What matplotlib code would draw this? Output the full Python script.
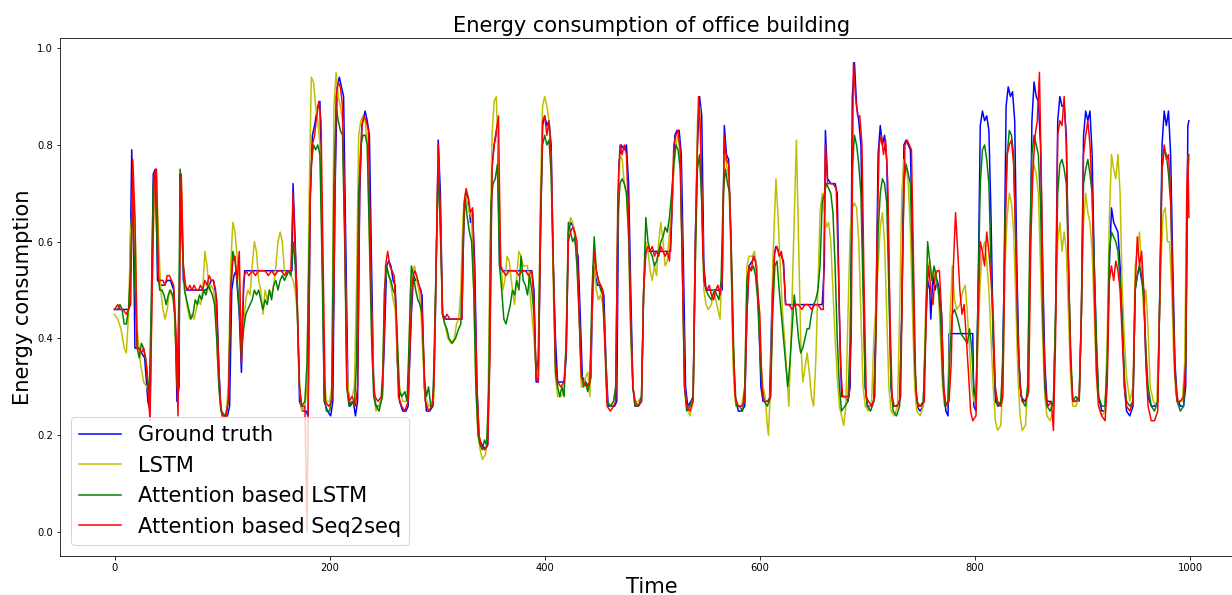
import matplotlib
matplotlib.use("Agg")
import matplotlib.pyplot as plt

# (time step, value) vertices, per series
truth = [
    (0, 0.46), (5, 0.46), (10, 0.46), (13, 0.46), (14, 0.47), (16, 0.79), (17, 0.70), (19, 0.38), (22, 0.38),
    (25, 0.37), (28, 0.36), (31, 0.27), (33, 0.25), (34, 0.40), (36, 0.74), (38, 0.75), (40, 0.52), (43, 0.51),
    (46, 0.51), (49, 0.52), (52, 0.52), (55, 0.50), (57, 0.40), (58, 0.27), (60, 0.30), (61, 0.74), (62, 0.72),
    (64, 0.52), (67, 0.50), (70, 0.50), (75, 0.50), (80, 0.50), (85, 0.50), (88, 0.51), (90, 0.52), (92, 0.52),
    (95, 0.48), (97, 0.34), (99, 0.25), (102, 0.24), (105, 0.24), (107, 0.26), (109, 0.50), (111, 0.53),
    (113, 0.54), (116, 0.45), (118, 0.33), (120, 0.50), (121, 0.54), (130, 0.54), (140, 0.54), (150, 0.54),
    (160, 0.54), (165, 0.54), (166, 0.72), (168, 0.60), (170, 0.46), (172, 0.27), (175, 0.25), (178, 0.25),
    (180, 0.24), (182, 0.70), (184, 0.82), (186, 0.84), (189, 0.88), (191, 0.89), (193, 0.62), (195, 0.27),
    (198, 0.25), (201, 0.24), (203, 0.27), (205, 0.70), (207, 0.92), (209, 0.94), (211, 0.92), (213, 0.90),
    (215, 0.60), (217, 0.30), (219, 0.26), (222, 0.27), (224, 0.24), (226, 0.27), (228, 0.70), (230, 0.84),
    (233, 0.87), (235, 0.85), (237, 0.82), (239, 0.55), (241, 0.30), (243, 0.26), (246, 0.26), (249, 0.28),
    (251, 0.40), (253, 0.55), (255, 0.56), (257, 0.55), (259, 0.52), (261, 0.51), (263, 0.35), (265, 0.27),
    (268, 0.25), (271, 0.25), (273, 0.26), (276, 0.45), (278, 0.53), (280, 0.52), (282, 0.52), (284, 0.50),
    (286, 0.49), (288, 0.30), (290, 0.25), (293, 0.25), (296, 0.26), (298, 0.40), (301, 0.81), (303, 0.70),
    (305, 0.45), (308, 0.44), (312, 0.44), (316, 0.44), (320, 0.44), (323, 0.44), (325, 0.66), (327, 0.70),
    (329, 0.69), (331, 0.64), (333, 0.66), (335, 0.55), (337, 0.30), (339, 0.19), (342, 0.18), (345, 0.17),
    (347, 0.18), (349, 0.40), (351, 0.76), (353, 0.80), (356, 0.84), (358, 0.55), (360, 0.54), (370, 0.54),
    (380, 0.54), (388, 0.54), (390, 0.50), (392, 0.31), (394, 0.31), (396, 0.60), (398, 0.84), (400, 0.86),
    (402, 0.84), (404, 0.85), (406, 0.80), (408, 0.55), (410, 0.40), (412, 0.31), (415, 0.31), (418, 0.31),
    (420, 0.36), (422, 0.62), (424, 0.64), (427, 0.63), (429, 0.59), (431, 0.57), (433, 0.45), (435, 0.32),
    (438, 0.31), (441, 0.30), (443, 0.32), (445, 0.55), (447, 0.53), (449, 0.51), (452, 0.51), (455, 0.49),
    (457, 0.35), (459, 0.26), (462, 0.26), (465, 0.26), (467, 0.27), (469, 0.76), (471, 0.80), (474, 0.79),
    (476, 0.80), (478, 0.72), (480, 0.50), (482, 0.30), (484, 0.26), (487, 0.26), (490, 0.27), (492, 0.50),
    (494, 0.58), (500, 0.58), (510, 0.58), (517, 0.58), (519, 0.70), (521, 0.82), (523, 0.83), (525, 0.83),
    (527, 0.78), (529, 0.55), (531, 0.30), (533, 0.26), (536, 0.27), (538, 0.28), (540, 0.60), (542, 0.80),
    (544, 0.90), (546, 0.86), (548, 0.55), (550, 0.50), (555, 0.50), (560, 0.50), (565, 0.50), (567, 0.84),
    (569, 0.78), (571, 0.77), (573, 0.60), (575, 0.40), (577, 0.28), (580, 0.25), (583, 0.25), (586, 0.26),
    (588, 0.45), (590, 0.55), (593, 0.56), (595, 0.57), (597, 0.55), (599, 0.45), (601, 0.30), (603, 0.27),
    (606, 0.27), (609, 0.27), (611, 0.45), (613, 0.57), (615, 0.59), (618, 0.58), (620, 0.57), (622, 0.56),
    (624, 0.47), (630, 0.47), (640, 0.47), (650, 0.47), (658, 0.47), (660, 0.55), (661, 0.83), (663, 0.73),
    (666, 0.72), (670, 0.72), (672, 0.70), (674, 0.45), (676, 0.28), (679, 0.28), (682, 0.27), (684, 0.30),
    (686, 0.90), (688, 0.97), (690, 0.88), (692, 0.85), (694, 0.80), (696, 0.55), (698, 0.30), (700, 0.26),
    (703, 0.26), (706, 0.27), (708, 0.45), (710, 0.78), (712, 0.84), (714, 0.80), (716, 0.82), (718, 0.77),
    (720, 0.55), (722, 0.30), (724, 0.26), (727, 0.26), (730, 0.27), (732, 0.45), (734, 0.80), (736, 0.81),
    (738, 0.80), (740, 0.79), (742, 0.60), (744, 0.35), (746, 0.26), (749, 0.25), (752, 0.26), (754, 0.40),
    (756, 0.52), (758, 0.50), (759, 0.44), (761, 0.53), (763, 0.50), (765, 0.52), (767, 0.50), (769, 0.45),
    (771, 0.30), (773, 0.25), (775, 0.24), (776, 0.41), (785, 0.41), (795, 0.41), (798, 0.41), (799, 0.26),
    (801, 0.25), (803, 0.50), (805, 0.84), (807, 0.87), (809, 0.85), (811, 0.86), (813, 0.83), (815, 0.65),
    (817, 0.40), (819, 0.27), (822, 0.26), (825, 0.27), (827, 0.50), (829, 0.88), (831, 0.92), (833, 0.90),
    (835, 0.91), (837, 0.85), (839, 0.55), (841, 0.35), (843, 0.28), (846, 0.27), (849, 0.28), (851, 0.50),
    (853, 0.85), (855, 0.93), (857, 0.90), (859, 0.89), (861, 0.80), (863, 0.55), (865, 0.35), (867, 0.27),
    (870, 0.27), (873, 0.26), (875, 0.45), (877, 0.85), (879, 0.90), (881, 0.88), (883, 0.88), (885, 0.82),
    (887, 0.55), (889, 0.35), (891, 0.27), (894, 0.27), (897, 0.28), (899, 0.45), (901, 0.82), (903, 0.87),
    (905, 0.85), (907, 0.87), (909, 0.78), (911, 0.55), (913, 0.38), (915, 0.28), (918, 0.25), (921, 0.25),
    (923, 0.35), (925, 0.55), (927, 0.67), (929, 0.64), (931, 0.63), (933, 0.62), (935, 0.55), (937, 0.45),
    (939, 0.30), (941, 0.25), (944, 0.24), (947, 0.26), (949, 0.50), (951, 0.53), (953, 0.55), (955, 0.52),
    (957, 0.50), (959, 0.35), (961, 0.28), (964, 0.26), (967, 0.26), (970, 0.27), (972, 0.50), (974, 0.80),
    (976, 0.87), (978, 0.84), (980, 0.87), (982, 0.78), (984, 0.55), (986, 0.35), (988, 0.28), (991, 0.26),
    (994, 0.26), (996, 0.30), (998, 0.84), (999, 0.85),
]

lstm = [
    (0, 0.45), (3, 0.44), (6, 0.42), (9, 0.38), (11, 0.37), (13, 0.45), (15, 0.62), (17, 0.69), (19, 0.65),
    (21, 0.42), (24, 0.35), (27, 0.31), (30, 0.30), (33, 0.28), (35, 0.50), (37, 0.72), (39, 0.74), (41, 0.60),
    (43, 0.50), (45, 0.46), (47, 0.44), (49, 0.46), (51, 0.50), (53, 0.49), (55, 0.48), (57, 0.38), (59, 0.30),
    (61, 0.60), (62, 0.74), (64, 0.55), (66, 0.49), (68, 0.46), (70, 0.44), (72, 0.45), (74, 0.44), (76, 0.46),
    (78, 0.48), (80, 0.47), (82, 0.50), (84, 0.58), (86, 0.55), (88, 0.50), (90, 0.51), (92, 0.50), (94, 0.46),
    (96, 0.35), (98, 0.27), (100, 0.24), (104, 0.24), (106, 0.32), (108, 0.55), (110, 0.64), (112, 0.62),
    (114, 0.57), (116, 0.52), (118, 0.40), (120, 0.42), (122, 0.48), (124, 0.50), (126, 0.49), (128, 0.55),
    (130, 0.60), (132, 0.58), (134, 0.52), (136, 0.50), (138, 0.45), (140, 0.50), (142, 0.48), (144, 0.50),
    (146, 0.49), (148, 0.51), (150, 0.55), (152, 0.60), (154, 0.62), (156, 0.60), (158, 0.54), (160, 0.53),
    (162, 0.54), (164, 0.53), (166, 0.52), (168, 0.50), (170, 0.45), (172, 0.30), (174, 0.25), (177, 0.26),
    (179, 0.30), (181, 0.70), (183, 0.94), (185, 0.93), (187, 0.88), (189, 0.85), (191, 0.80), (193, 0.60),
    (195, 0.32), (197, 0.27), (200, 0.27), (202, 0.30), (204, 0.88), (206, 0.95), (208, 0.90), (210, 0.88),
    (212, 0.85), (214, 0.62), (216, 0.35), (218, 0.27), (221, 0.28), (223, 0.30), (225, 0.50), (227, 0.82),
    (229, 0.85), (231, 0.86), (233, 0.85), (235, 0.80), (237, 0.62), (239, 0.45), (241, 0.30), (243, 0.25),
    (246, 0.26), (249, 0.28), (251, 0.50), (253, 0.55), (255, 0.53), (257, 0.51), (259, 0.48), (261, 0.46),
    (263, 0.35), (265, 0.30), (268, 0.27), (271, 0.27), (273, 0.28), (275, 0.50), (277, 0.54), (279, 0.55),
    (281, 0.52), (283, 0.50), (285, 0.45), (287, 0.35), (289, 0.28), (292, 0.26), (295, 0.26), (297, 0.28),
    (299, 0.55), (301, 0.78), (303, 0.62), (305, 0.45), (307, 0.43), (310, 0.40), (313, 0.39), (316, 0.40),
    (318, 0.43), (320, 0.44), (322, 0.50), (324, 0.65), (326, 0.70), (328, 0.68), (330, 0.66), (332, 0.65),
    (334, 0.50), (336, 0.30), (338, 0.20), (340, 0.17), (342, 0.15), (345, 0.16), (347, 0.22), (349, 0.55),
    (351, 0.82), (353, 0.89), (355, 0.90), (357, 0.75), (359, 0.58), (361, 0.50), (363, 0.52), (365, 0.57),
    (367, 0.56), (370, 0.50), (372, 0.47), (374, 0.53), (376, 0.58), (378, 0.57), (380, 0.55), (382, 0.55),
    (384, 0.55), (386, 0.50), (388, 0.45), (390, 0.40), (392, 0.33), (394, 0.34), (396, 0.70), (398, 0.88),
    (400, 0.90), (402, 0.88), (404, 0.85), (406, 0.75), (408, 0.50), (410, 0.32), (412, 0.28), (415, 0.28),
    (418, 0.29), (420, 0.40), (422, 0.62), (424, 0.65), (426, 0.64), (428, 0.62), (430, 0.55), (432, 0.45),
    (434, 0.30), (436, 0.30), (438, 0.32), (440, 0.33), (442, 0.28), (444, 0.45), (446, 0.55), (448, 0.50),
    (450, 0.48), (452, 0.49), (454, 0.47), (456, 0.40), (458, 0.27), (461, 0.26), (464, 0.27), (466, 0.30),
    (468, 0.65), (470, 0.78), (472, 0.77), (474, 0.72), (476, 0.70), (478, 0.60), (480, 0.40), (482, 0.30),
    (484, 0.27), (487, 0.27), (490, 0.28), (492, 0.50), (494, 0.60), (496, 0.58), (498, 0.54), (500, 0.52),
    (502, 0.55), (504, 0.53), (506, 0.60), (508, 0.64), (510, 0.60), (512, 0.55), (514, 0.56), (516, 0.62),
    (518, 0.66), (520, 0.75), (522, 0.80), (524, 0.82), (526, 0.78), (528, 0.55), (530, 0.30), (532, 0.26),
    (535, 0.24), (538, 0.27), (540, 0.55), (542, 0.85), (544, 0.88), (546, 0.70), (548, 0.50), (550, 0.47),
    (552, 0.46), (555, 0.47), (557, 0.50), (559, 0.48), (561, 0.46), (563, 0.44), (565, 0.55), (567, 0.78),
    (569, 0.76), (571, 0.73), (573, 0.60), (575, 0.35), (577, 0.27), (580, 0.26), (583, 0.26), (586, 0.30),
    (588, 0.55), (590, 0.57), (593, 0.57), (595, 0.58), (597, 0.55), (599, 0.46), (601, 0.35), (603, 0.30),
    (605, 0.28), (607, 0.22), (608, 0.20), (610, 0.30), (612, 0.55), (615, 0.73), (617, 0.65), (619, 0.55),
    (621, 0.46), (623, 0.40), (625, 0.33), (627, 0.26), (629, 0.40), (632, 0.65), (634, 0.81), (636, 0.60),
    (638, 0.40), (640, 0.31), (642, 0.34), (644, 0.37), (646, 0.33), (648, 0.28), (650, 0.26), (652, 0.35),
    (654, 0.50), (656, 0.66), (658, 0.70), (660, 0.66), (662, 0.63), (664, 0.64), (666, 0.60), (668, 0.50),
    (670, 0.40), (672, 0.32), (674, 0.26), (676, 0.24), (678, 0.22), (680, 0.26), (682, 0.45),
    (684, 0.62), (686, 0.67), (688, 0.68), (690, 0.67), (692, 0.60), (694, 0.45), (696, 0.30), (698, 0.26),
    (701, 0.25), (704, 0.27), (706, 0.40), (708, 0.47), (710, 0.55), (712, 0.63), (714, 0.66), (716, 0.60),
    (718, 0.45), (720, 0.30), (722, 0.25), (725, 0.24), (728, 0.26), (730, 0.45), (732, 0.70), (734, 0.77),
    (736, 0.76), (738, 0.72), (740, 0.62), (742, 0.45), (744, 0.30), (746, 0.25), (749, 0.24), (752, 0.26),
    (754, 0.45), (756, 0.55), (758, 0.56), (760, 0.52), (762, 0.54), (764, 0.52), (766, 0.50), (768, 0.40),
    (770, 0.30), (772, 0.26), (775, 0.27), (777, 0.45), (779, 0.55), (781, 0.48), (783, 0.46), (786, 0.47),
    (789, 0.50), (791, 0.51), (793, 0.45), (795, 0.38), (797, 0.30), (799, 0.27), (801, 0.28), (803, 0.40),
    (805, 0.52), (807, 0.58), (809, 0.60), (811, 0.56), (813, 0.50), (815, 0.40), (817, 0.30), (819, 0.23),
    (821, 0.21), (824, 0.22), (826, 0.30), (828, 0.55), (830, 0.65), (832, 0.70), (834, 0.68), (836, 0.62),
    (838, 0.48), (840, 0.32), (842, 0.24), (844, 0.21), (847, 0.22), (849, 0.30), (851, 0.55), (853, 0.72),
    (855, 0.76), (857, 0.74), (859, 0.70), (861, 0.55), (863, 0.40), (865, 0.28), (867, 0.24), (870, 0.23),
    (873, 0.25), (875, 0.45), (877, 0.60), (879, 0.64), (881, 0.58), (883, 0.62), (885, 0.58), (887, 0.45),
    (889, 0.32), (891, 0.26), (894, 0.26), (897, 0.28), (899, 0.45), (901, 0.64), (903, 0.70), (905, 0.66),
    (907, 0.64), (909, 0.58), (911, 0.45), (913, 0.32), (915, 0.26), (918, 0.24), (921, 0.25), (923, 0.40),
    (925, 0.65), (927, 0.78), (929, 0.75), (931, 0.73), (933, 0.78), (935, 0.70), (937, 0.50), (939, 0.40),
    (941, 0.32), (944, 0.27), (947, 0.30), (949, 0.55), (951, 0.58), (953, 0.62), (955, 0.55), (957, 0.45),
    (959, 0.50), (961, 0.42), (963, 0.30), (966, 0.27), (969, 0.26), (971, 0.40), (973, 0.55), (975, 0.66),
    (977, 0.67), (979, 0.60), (981, 0.60), (983, 0.50), (985, 0.35), (987, 0.28), (990, 0.27), (993, 0.27),
    (995, 0.35), (997, 0.70), (999, 0.77),
]

att_lstm = [
    (0, 0.46), (3, 0.46), (5, 0.47), (7, 0.46), (9, 0.43), (11, 0.43), (13, 0.46), (15, 0.55), (17, 0.70),
    (19, 0.50), (21, 0.38), (23, 0.36), (25, 0.39), (27, 0.38), (30, 0.34), (32, 0.27), (34, 0.45), (36, 0.72),
    (38, 0.74), (40, 0.55), (42, 0.50), (44, 0.50), (46, 0.49), (48, 0.47), (50, 0.49), (52, 0.50), (54, 0.49),
    (56, 0.45), (58, 0.30), (60, 0.50), (61, 0.75), (63, 0.60), (65, 0.50), (67, 0.48), (69, 0.46), (71, 0.44),
    (73, 0.45), (75, 0.48), (77, 0.47), (79, 0.49), (81, 0.48), (83, 0.50), (85, 0.49), (87, 0.51), (89, 0.50),
    (91, 0.49), (93, 0.47), (95, 0.40), (97, 0.30), (99, 0.25), (103, 0.24), (106, 0.27), (108, 0.50),
    (110, 0.58), (112, 0.56), (114, 0.52), (116, 0.46), (118, 0.36), (120, 0.42), (122, 0.45), (124, 0.46),
    (126, 0.47), (128, 0.48), (130, 0.50), (132, 0.49), (134, 0.50), (136, 0.48), (138, 0.46), (140, 0.48),
    (142, 0.47), (144, 0.50), (146, 0.48), (148, 0.51), (150, 0.52), (152, 0.50), (154, 0.52), (156, 0.53),
    (158, 0.52), (160, 0.53), (162, 0.54), (164, 0.53), (166, 0.60), (168, 0.55), (170, 0.45), (172, 0.30),
    (174, 0.26), (177, 0.27), (179, 0.35), (181, 0.60), (183, 0.76), (185, 0.80), (187, 0.79), (189, 0.80),
    (191, 0.78), (193, 0.55), (195, 0.28), (197, 0.25), (200, 0.25), (202, 0.28), (204, 0.72), (206, 0.88),
    (208, 0.85), (210, 0.83), (212, 0.82), (214, 0.60), (216, 0.30), (218, 0.26), (221, 0.27), (223, 0.26),
    (225, 0.35), (227, 0.70), (229, 0.80), (231, 0.82), (233, 0.82), (235, 0.80), (237, 0.60), (239, 0.40),
    (241, 0.28), (243, 0.26), (246, 0.25), (249, 0.28), (251, 0.50), (253, 0.55), (255, 0.53), (257, 0.52),
    (259, 0.50), (261, 0.49), (263, 0.40), (265, 0.29), (267, 0.28), (270, 0.29), (272, 0.27), (274, 0.40),
    (276, 0.55), (278, 0.53), (280, 0.50), (282, 0.48), (284, 0.47), (286, 0.45), (288, 0.32), (290, 0.28),
    (292, 0.30), (294, 0.26), (296, 0.26), (298, 0.45), (301, 0.75), (303, 0.62), (305, 0.45), (307, 0.43),
    (309, 0.42), (311, 0.40), (314, 0.39), (317, 0.40), (320, 0.42), (322, 0.43), (324, 0.60), (326, 0.69),
    (328, 0.65), (330, 0.62), (332, 0.60), (334, 0.50), (336, 0.30), (338, 0.20), (340, 0.18), (342, 0.17),
    (344, 0.19), (346, 0.18), (348, 0.30), (350, 0.68), (352, 0.72), (354, 0.73), (356, 0.76), (358, 0.55),
    (360, 0.50), (362, 0.44), (364, 0.43), (366, 0.45), (368, 0.47), (370, 0.50), (372, 0.49), (374, 0.52),
    (376, 0.50), (378, 0.57), (380, 0.52), (382, 0.51), (384, 0.49), (386, 0.53), (388, 0.50), (390, 0.45),
    (392, 0.33), (394, 0.36), (396, 0.65), (398, 0.80), (400, 0.82), (402, 0.80), (404, 0.81), (406, 0.74),
    (408, 0.55), (410, 0.33), (412, 0.30), (414, 0.28), (416, 0.30), (418, 0.28), (420, 0.40), (422, 0.64),
    (424, 0.62), (426, 0.60), (428, 0.61), (430, 0.55), (432, 0.45), (434, 0.33), (436, 0.30), (438, 0.31),
    (440, 0.29), (442, 0.31), (444, 0.50), (446, 0.61), (448, 0.54), (450, 0.52), (452, 0.50), (454, 0.49),
    (456, 0.40), (458, 0.27), (461, 0.26), (464, 0.27), (466, 0.30), (468, 0.65), (470, 0.72), (472, 0.73),
    (474, 0.72), (476, 0.70), (478, 0.62), (480, 0.42), (482, 0.30), (484, 0.26), (487, 0.26), (490, 0.28),
    (492, 0.50), (494, 0.65), (496, 0.60), (498, 0.58), (500, 0.57), (502, 0.55), (504, 0.56), (506, 0.58),
    (508, 0.60), (510, 0.61), (512, 0.63), (514, 0.62), (516, 0.65), (518, 0.70), (520, 0.76), (522, 0.80),
    (524, 0.79), (526, 0.75), (528, 0.55), (530, 0.30), (532, 0.25), (535, 0.26), (538, 0.28), (540, 0.55),
    (542, 0.75), (544, 0.78), (546, 0.68), (548, 0.52), (550, 0.50), (552, 0.49), (555, 0.48), (558, 0.50),
    (560, 0.49), (562, 0.48), (564, 0.52), (566, 0.70), (568, 0.75), (570, 0.72), (572, 0.70), (574, 0.55),
    (576, 0.35), (578, 0.26), (581, 0.26), (584, 0.25), (586, 0.30), (588, 0.52), (590, 0.55), (592, 0.54),
    (594, 0.55), (596, 0.53), (598, 0.48), (600, 0.38), (602, 0.30), (604, 0.27), (607, 0.26), (610, 0.28),
    (612, 0.45), (614, 0.55), (616, 0.56), (618, 0.50), (620, 0.45), (622, 0.40), (624, 0.35), (626, 0.30),
    (628, 0.35), (630, 0.42), (632, 0.49), (634, 0.45), (636, 0.40), (638, 0.37), (640, 0.38), (642, 0.40),
    (644, 0.42), (646, 0.42), (648, 0.45), (650, 0.47), (652, 0.48), (654, 0.50), (656, 0.55), (658, 0.68),
    (660, 0.70), (662, 0.72), (664, 0.71), (666, 0.70), (668, 0.66), (670, 0.55), (672, 0.40), (674, 0.30),
    (676, 0.25), (679, 0.26), (682, 0.27), (684, 0.40), (686, 0.75), (688, 0.82), (690, 0.80), (692, 0.76),
    (694, 0.70), (696, 0.50), (698, 0.30), (700, 0.26), (703, 0.25), (706, 0.27), (708, 0.40), (710, 0.62),
    (712, 0.70), (714, 0.73), (716, 0.72), (718, 0.68), (720, 0.50), (722, 0.30), (724, 0.25), (727, 0.24),
    (730, 0.26), (732, 0.45), (734, 0.72), (736, 0.76), (738, 0.74), (740, 0.72), (742, 0.55), (744, 0.35),
    (746, 0.27), (749, 0.26), (752, 0.27), (754, 0.40), (756, 0.60), (758, 0.56), (760, 0.52), (762, 0.55),
    (764, 0.53), (766, 0.50), (768, 0.45), (770, 0.32), (772, 0.26), (775, 0.27), (777, 0.38), (779, 0.45),
    (781, 0.46), (784, 0.44), (787, 0.41), (790, 0.40), (793, 0.39), (795, 0.42), (797, 0.38), (799, 0.30),
    (801, 0.27), (803, 0.50), (805, 0.72), (807, 0.79), (809, 0.80), (811, 0.77), (813, 0.72), (815, 0.55),
    (817, 0.40), (819, 0.29), (821, 0.26), (824, 0.27), (826, 0.35), (828, 0.65), (830, 0.78), (832, 0.83),
    (834, 0.82), (836, 0.78), (838, 0.60), (840, 0.40), (842, 0.30), (844, 0.27), (847, 0.26), (849, 0.30),
    (851, 0.60), (853, 0.78), (855, 0.82), (857, 0.80), (859, 0.78), (861, 0.68), (863, 0.45), (865, 0.30),
    (867, 0.26), (870, 0.25), (873, 0.27), (875, 0.45), (877, 0.70), (879, 0.76), (881, 0.77), (883, 0.75),
    (885, 0.72), (887, 0.55), (889, 0.38), (891, 0.27), (894, 0.28), (897, 0.27), (899, 0.45), (901, 0.72),
    (903, 0.75), (905, 0.77), (907, 0.74), (909, 0.70), (911, 0.55), (913, 0.40), (915, 0.28), (918, 0.26),
    (921, 0.26), (923, 0.35), (925, 0.58), (927, 0.62), (929, 0.61), (931, 0.60), (933, 0.58), (935, 0.52),
    (937, 0.43), (939, 0.32), (941, 0.27), (944, 0.26), (947, 0.27), (949, 0.50), (951, 0.53), (953, 0.55),
    (955, 0.53), (957, 0.48), (959, 0.38), (961, 0.30), (964, 0.26), (967, 0.25), (970, 0.27), (972, 0.50),
    (974, 0.75), (976, 0.79), (978, 0.78), (980, 0.74), (982, 0.68), (984, 0.50), (986, 0.33), (988, 0.27),
    (991, 0.25), (994, 0.26), (996, 0.35), (998, 0.75), (999, 0.78),
]

seq2seq = [
    (0, 0.46), (3, 0.47), (5, 0.46), (8, 0.46), (11, 0.45), (13, 0.46), (15, 0.47), (17, 0.77), (19, 0.65),
    (21, 0.38), (23, 0.38), (25, 0.37), (27, 0.38), (29, 0.36), (31, 0.30), (33, 0.23), (35, 0.50), (37, 0.74),
    (39, 0.75), (41, 0.52), (43, 0.52), (45, 0.52), (47, 0.51), (49, 0.53), (51, 0.53), (53, 0.52), (55, 0.51),
    (57, 0.42), (59, 0.24), (61, 0.60), (62, 0.74), (64, 0.55), (66, 0.51), (68, 0.50), (70, 0.51), (72, 0.50),
    (74, 0.51), (76, 0.50), (78, 0.50), (80, 0.51), (82, 0.50), (84, 0.52), (86, 0.51), (88, 0.53), (90, 0.52),
    (92, 0.52), (94, 0.50), (96, 0.40), (98, 0.28), (100, 0.24), (104, 0.24), (106, 0.28), (108, 0.50),
    (110, 0.56), (112, 0.57), (114, 0.52), (116, 0.58), (118, 0.35), (120, 0.52), (122, 0.54), (125, 0.53),
    (128, 0.54), (131, 0.53), (134, 0.54), (137, 0.54), (140, 0.54), (143, 0.53), (146, 0.54), (149, 0.53),
    (152, 0.54), (155, 0.54), (158, 0.53), (161, 0.54), (164, 0.54), (166, 0.70), (168, 0.58), (170, 0.47),
    (172, 0.30), (174, 0.26), (177, 0.26), (179, 0.00), (180, 0.25), (182, 0.70), (184, 0.80), (186, 0.82),
    (188, 0.86), (190, 0.89), (192, 0.85), (194, 0.55), (196, 0.27), (199, 0.26), (202, 0.27), (204, 0.50),
    (206, 0.90), (208, 0.93), (210, 0.92), (212, 0.88), (214, 0.65), (216, 0.30), (218, 0.27), (221, 0.28),
    (224, 0.26), (226, 0.30), (228, 0.72), (230, 0.84), (232, 0.86), (234, 0.85), (236, 0.83), (238, 0.60),
    (240, 0.35), (242, 0.28), (245, 0.27), (248, 0.28), (250, 0.35), (252, 0.55), (254, 0.58), (256, 0.55),
    (258, 0.54), (260, 0.53), (262, 0.45), (264, 0.28), (267, 0.26), (270, 0.25), (273, 0.27), (275, 0.40),
    (277, 0.52), (279, 0.54), (281, 0.53), (283, 0.51), (285, 0.50), (287, 0.40), (289, 0.27), (292, 0.25),
    (295, 0.26), (297, 0.30), (299, 0.55), (301, 0.80), (303, 0.65), (305, 0.45), (307, 0.44), (309, 0.45),
    (312, 0.44), (315, 0.44), (318, 0.44), (321, 0.44), (323, 0.44), (325, 0.68), (327, 0.71), (329, 0.69),
    (331, 0.66), (333, 0.67), (335, 0.50), (337, 0.30), (339, 0.20), (341, 0.18), (344, 0.17), (347, 0.18),
    (349, 0.35), (351, 0.75), (353, 0.80), (355, 0.83), (357, 0.86), (359, 0.55), (361, 0.54), (364, 0.53),
    (367, 0.54), (370, 0.54), (373, 0.54), (376, 0.53), (379, 0.54), (382, 0.54), (385, 0.53), (388, 0.54),
    (390, 0.48), (392, 0.32), (394, 0.31), (396, 0.60), (398, 0.85), (400, 0.86), (402, 0.82), (404, 0.85),
    (406, 0.78), (408, 0.55), (410, 0.35), (412, 0.31), (415, 0.30), (418, 0.31), (420, 0.38), (422, 0.60),
    (424, 0.62), (426, 0.63), (428, 0.62), (430, 0.60), (432, 0.45), (434, 0.32), (436, 0.31), (439, 0.30),
    (442, 0.31), (444, 0.45), (446, 0.58), (448, 0.54), (450, 0.52), (452, 0.51), (454, 0.50), (456, 0.38),
    (458, 0.26), (461, 0.25), (464, 0.26), (466, 0.27), (468, 0.70), (470, 0.80), (472, 0.78), (474, 0.80),
    (476, 0.78), (478, 0.65), (480, 0.45), (482, 0.30), (484, 0.27), (487, 0.26), (490, 0.27), (492, 0.50),
    (494, 0.58), (496, 0.59), (498, 0.58), (500, 0.59), (502, 0.57), (504, 0.58), (506, 0.57), (508, 0.59),
    (510, 0.58), (512, 0.57), (514, 0.58), (516, 0.56), (518, 0.65), (520, 0.80), (522, 0.82), (524, 0.83),
    (526, 0.79), (528, 0.55), (530, 0.30), (532, 0.26), (535, 0.25), (538, 0.27), (540, 0.60), (542, 0.80),
    (543, 0.90), (545, 0.82), (547, 0.58), (549, 0.51), (551, 0.50), (553, 0.51), (555, 0.49), (557, 0.48),
    (559, 0.50), (561, 0.51), (563, 0.49), (565, 0.52), (567, 0.82), (569, 0.77), (571, 0.76), (573, 0.62),
    (575, 0.40), (577, 0.28), (580, 0.26), (583, 0.26), (586, 0.27), (588, 0.45), (590, 0.55), (592, 0.54),
    (594, 0.57), (596, 0.56), (598, 0.50), (600, 0.45), (602, 0.30), (604, 0.27), (607, 0.27), (610, 0.28),
    (612, 0.50), (614, 0.58), (616, 0.59), (618, 0.57), (620, 0.58), (622, 0.55), (624, 0.47), (627, 0.47),
    (630, 0.46), (633, 0.47), (636, 0.47), (639, 0.46), (642, 0.47), (645, 0.47), (648, 0.46), (651, 0.47),
    (654, 0.47), (657, 0.46), (659, 0.46), (661, 0.80), (663, 0.72), (665, 0.72), (668, 0.72), (671, 0.71),
    (673, 0.55), (675, 0.35), (677, 0.28), (680, 0.28), (683, 0.28), (685, 0.40), (687, 0.97), (689, 0.90),
    (691, 0.86), (693, 0.86), (695, 0.80), (697, 0.50), (699, 0.28), (701, 0.27), (704, 0.26), (707, 0.28),
    (709, 0.60), (711, 0.80), (713, 0.82), (715, 0.78), (717, 0.81), (719, 0.72), (721, 0.45), (723, 0.28),
    (725, 0.26), (728, 0.26), (731, 0.28), (733, 0.60), (735, 0.80), (737, 0.81), (739, 0.80), (741, 0.79),
    (743, 0.55), (745, 0.30), (747, 0.26), (750, 0.26), (753, 0.27), (755, 0.48), (757, 0.55), (759, 0.50),
    (761, 0.47), (763, 0.53), (765, 0.54), (767, 0.54), (769, 0.45), (771, 0.30), (773, 0.26), (776, 0.27),
    (778, 0.35), (780, 0.55), (782, 0.66), (784, 0.58), (786, 0.50), (788, 0.45), (790, 0.47), (792, 0.40),
    (794, 0.33), (796, 0.25), (798, 0.23), (801, 0.24), (803, 0.45), (805, 0.60), (807, 0.58), (809, 0.55),
    (811, 0.62), (813, 0.58), (815, 0.52), (817, 0.45), (819, 0.30), (821, 0.27), (824, 0.26), (826, 0.28),
    (828, 0.60), (830, 0.78), (832, 0.80), (834, 0.81), (836, 0.76), (838, 0.60), (840, 0.40), (842, 0.30),
    (844, 0.27), (847, 0.27), (850, 0.29), (852, 0.60), (854, 0.75), (856, 0.82), (858, 0.85), (860, 0.95),
    (862, 0.70), (864, 0.40), (866, 0.28), (868, 0.26), (871, 0.27), (873, 0.21), (875, 0.40), (877, 0.82),
    (879, 0.85), (881, 0.84), (883, 0.90), (885, 0.80), (887, 0.55), (889, 0.35), (891, 0.27), (894, 0.27),
    (897, 0.28), (899, 0.45), (901, 0.78), (903, 0.82), (905, 0.85), (907, 0.80), (909, 0.70), (911, 0.50),
    (913, 0.33), (915, 0.26), (918, 0.24), (921, 0.23), (923, 0.30), (925, 0.52), (927, 0.55), (929, 0.52),
    (931, 0.56), (933, 0.54), (935, 0.50), (937, 0.40), (939, 0.30), (941, 0.26), (944, 0.25), (947, 0.27),
    (949, 0.50), (951, 0.61), (953, 0.55), (955, 0.58), (957, 0.50), (959, 0.35), (961, 0.26), (964, 0.23),
    (967, 0.23), (970, 0.25), (972, 0.50), (974, 0.75), (976, 0.80), (978, 0.77), (980, 0.78), (982, 0.70),
    (984, 0.50), (986, 0.33), (988, 0.27), (991, 0.27), (994, 0.28), (996, 0.35), (997, 0.70), (998, 0.78),
    (999, 0.65),
]

series = [
    ("Ground truth", truth, "b"),
    ("LSTM", lstm, "y"),
    ("Attention based LSTM", att_lstm, "g"),
    ("Attention based Seq2seq", seq2seq, "r"),
]

fig = plt.figure(figsize=(1232 / 72, 595 / 72), dpi=72)
# axes run a little past the right edge, as in the cropped reference
ax = fig.add_axes([60 / 1232, 39.3 / 595, 1182.7 / 1232, 517.7 / 595])

for name, pts, color in series:
    t = [p[0] for p in pts]
    v = [p[1] for p in pts]
    ax.plot(t, v, color=color, linewidth=1.5, label=name)

ax.set_xlim(-50.7, 1049)
ax.set_ylim(-0.049, 1.021)
ax.set_xticks([0, 200, 400, 600, 800, 1000])
ax.set_yticks([0.0, 0.2, 0.4, 0.6, 0.8, 1.0])
ax.tick_params(labelsize=10)
ax.set_title("Energy consumption of office building", fontsize=21)
ax.set_xlabel("Time", fontsize=21)
ax.set_ylabel("Energy consumption", fontsize=21)
ax.legend(loc="lower left", fontsize=21)

fig.savefig("out.png", dpi=72)
plt.close(fig)
